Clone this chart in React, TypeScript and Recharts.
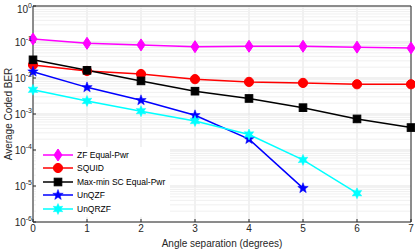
import React from "react";
import {
  LineChart,
  Line,
  XAxis,
  YAxis,
  CartesianGrid,
  ReferenceLine
} from "recharts";

const angles = [0, 1, 2, 3, 4, 5, 6, 7];
const zfEqual = [0.121, 0.092, 0.083, 0.074, 0.076, 0.076, 0.072, 0.068];
const squid = [0.023, 0.0157, 0.0129, 0.0093, 0.0078, 0.0073, 0.0067, 0.0067];
const maxMin = [0.032, 0.0163, 0.0083, 0.0043, 0.0027, 0.0015, 0.00073, 0.00042];
const unqzf = [0.015, 0.0055, 0.0024, 0.00092, 0.0002, 0.0000087, null, null];
const unqrzf = [0.0047, 0.0023, 0.0012, 0.00064, 0.00027, 0.000053, 0.0000063, null];

const yTicks = [1e-6, 1e-5, 1e-4, 1e-3, 1e-2, 1e-1, 1];
const yExp = [-6, -5, -4, -3, -2, -1, 0];

const seriesInfo = [
  { key: "zf", name: "ZF Equal-Pwr", color: "#ff00ff", marker: "diamond" },
  { key: "squid", name: "SQUID", color: "#ff0000", marker: "circle" },
  { key: "maxmin", name: "Max-min SC Equal-Pwr", color: "#000000", marker: "square" },
  { key: "unqzf", name: "UnQZF", color: "#0000ff", marker: "star5" },
  { key: "unqrzf", name: "UnQRZF", color: "#00ffff", marker: "star6" }
];

const data = angles.map((a, i) => ({
  angle: a,
  zf: zfEqual[i],
  squid: squid[i],
  maxmin: maxMin[i],
  unqzf: unqzf[i],
  unqrzf: unqrzf[i]
}));

const minorTicks: number[] = [];
for (let e = -6; e < 0; e++) {
  for (let m = 2; m <= 9; m++) minorTicks.push(m * Math.pow(10, e));
}

const font = "Liberation Sans, Arial, sans-serif";

function starPoints(cx: number, cy: number, n: number, ro: number, ri: number) {
  const pts: string[] = [];
  for (let i = 0; i < n * 2; i++) {
    const r = i % 2 === 0 ? ro : ri;
    const a = (Math.PI * i) / n - Math.PI / 2;
    pts.push(`${cx + r * Math.cos(a)},${cy + r * Math.sin(a)}`);
  }
  return pts.join(" ");
}

function Marker({ type, cx, cy, color }: { type: string; cx: number; cy: number; color: string }) {
  if (type === "diamond")
    return <polygon points={`${cx},${cy - 6} ${cx + 4},${cy} ${cx},${cy + 6} ${cx - 4},${cy}`} fill={color} stroke={color} />;
  if (type === "circle") return <circle cx={cx} cy={cy} r={4.6} fill={color} stroke={color} />;
  if (type === "square")
    return <rect x={cx - 3.8} y={cy - 3.8} width={7.6} height={7.6} fill={color} stroke={color} />;
  if (type === "star5")
    return <polygon points={starPoints(cx, cy, 5, 5.5, 2.3)} fill={color} stroke={color} strokeWidth={0.5} />;
  return <polygon points={starPoints(cx, cy, 6, 5.5, 2.8)} fill={color} stroke={color} strokeWidth={0.5} />;
}

function makeDot(type: string, color: string) {
  return (props: any) => {
    const { cx, cy, index, value } = props;
    if (value == null || cx == null || cy == null) return <g key={`d-${index}`} />;
    return (
      <g key={`d-${index}`}>
        <Marker type={type} cx={cx} cy={cy} color={color} />
      </g>
    );
  };
}

function YTick(props: any) {
  const { x, y, payload } = props;
  const idx = yTicks.indexOf(payload.value);
  const exp = idx >= 0 ? yExp[idx] : Math.round(Math.log10(payload.value));
  return (
    <text x={x - 2} y={y + 4} textAnchor="end" fontSize={10} fill="#262626" fontFamily={font}>
      <tspan>10</tspan>
      <tspan dy={-5} fontSize={7}>{exp}</tspan>
    </text>
  );
}

function LegendBox() {
  return (
    <div
      style={{
        position: "absolute",
        left: 36,
        top: 147,
        background: "#ffffff",
        padding: "1px 5px 1px 6px",
        fontFamily: font,
        fontSize: 8.5,
        color: "#000"
      }}
    >
      {seriesInfo.map(s => (
        <div key={s.key} style={{ display: "flex", alignItems: "center", height: 13.5 }}>
          <svg width={32} height={14} style={{ display: "block" }}>
            <line x1={1} y1={7} x2={31} y2={7} stroke={s.color} strokeWidth={1.5} />
            <Marker type={s.marker} cx={16} cy={7} color={s.color} />
          </svg>
          <span style={{ marginLeft: 3, whiteSpace: "nowrap" }}>{s.name}</span>
        </div>
      ))}
    </div>
  );
}

export default function App() {
  return (
    <div style={{ position: "absolute", left: 0, top: 0, width: 415, height: 249, background: "#fff" }}>
      <LineChart
        width={415}
        height={249}
        data={data}
        margin={{ top: 6, right: 4, bottom: 0, left: 0 }}
      >
        {minorTicks.map(v => (
          <ReferenceLine key={`m${v}`} y={v} stroke="#f0f0f0" strokeWidth={1} />
        ))}
        <CartesianGrid stroke="#e3e3e3" strokeWidth={1} />
        <ReferenceLine y={1} stroke="#262626" strokeWidth={1} />
        <ReferenceLine x={7} stroke="#262626" strokeWidth={1} />
        <XAxis
          dataKey="angle"
          type="number"
          domain={[0, 7]}
          ticks={angles}
          height={27}
          tick={{ fontSize: 10, fill: "#262626", fontFamily: font }}
          tickLine={{ stroke: "#262626" }}
          tickSize={-3}
          tickMargin={6}
          axisLine={{ stroke: "#262626" }}
          label={{
            value: "Angle separation (degrees)",
            position: "insideBottom",
            offset: 2,
            fontSize: 10,
            fill: "#262626",
            fontFamily: font
          }}
        />
        <YAxis
          scale="log"
          domain={[1e-6, 1]}
          ticks={yTicks}
          allowDataOverflow
          width={33}
          tick={<YTick />}
          tickLine={{ stroke: "#262626" }}
          tickSize={-3}
          axisLine={{ stroke: "#262626" }}
          label={{
            value: "Average Coded BER",
            angle: -90,
            position: "insideLeft",
            offset: 8,
            style: { textAnchor: "middle" },
            fontSize: 10,
            fill: "#262626",
            fontFamily: font
          }}
        />
        {seriesInfo.map(s => (
          <Line
            key={s.key}
            dataKey={s.key}
            name={s.name}
            stroke={s.color}
            strokeWidth={1.5}
            dot={makeDot(s.marker, s.color)}
            activeDot={false}
            connectNulls={false}
            isAnimationActive={false}
          />
        ))}
      </LineChart>
      <LegendBox />
    </div>
  );
}
